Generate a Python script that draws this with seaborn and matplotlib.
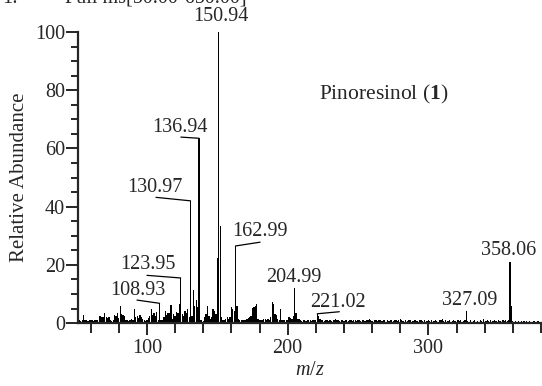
import numpy as np
import pandas as pd
import matplotlib
matplotlib.use("Agg")
import matplotlib.pyplot as plt
import seaborn as sns

# relative abundance at each nominal m/z
int_51_100 = [1.5, 1, 0.8, 1, 2.8, 1.2, 1, 0.8, 1, 1,
              1.2, 0.8, 1, 1, 1.2, 2.6, 2.4, 2.2, 2, 3.4,
              2.2, 1.6, 2, 1, 0.8, 1.2, 2.8, 2.5, 3.5, 1.8,
              6, 3, 2.8, 2.6, 1.2, 1, 0.8, 1, 1.5, 1,
              4.8, 2, 2.4, 1.8, 2.8, 2, 1.4, 1, 0.8, 1]
int_101_150 = [1.6, 2.5, 4.8, 2.8, 3.5, 2.4, 3.9, 1.2, 6.8, 1,
               1.2, 2, 4, 2.8, 3.3, 3.5, 6.2, 1.5, 3, 2.5,
               3.9, 3.5, 6.5, 15.5, 3, 2.5, 4, 3.5, 5, 2,
               42, 2.5, 11.5, 6, 8, 5.5, 63.5, 1, 1.2, 0.8,
               2, 3, 6, 2.5, 1.5, 2, 5, 4, 3, 22.5]
int_151_200 = [100, 33.5, 2, 1, 1.2, 1.5, 2, 1.5, 2, 5.5,
               5, 4, 26.5, 5.8, 1.5, 1, 1, 1.2, 1, 1,
               1.5, 1.6, 2, 2.5, 5.2, 5.5, 5.8, 6.5, 1.5, 1.2,
               1.2, 1, 1.5, 1.5, 1.2, 1.5, 1.2, 2, 7.3, 6.5,
               3, 2.8, 1.5, 1.2, 4.8, 1.2, 1.2, 1, 1, 1.2]
int_201_250 = [2.2, 1.8, 1.5, 2.5, 12, 3.5, 1.5, 1.5, 1, 0.8,
               1, 1, 0.8, 1, 1, 1, 0.8, 1, 1, 1.2,
               3.2, 2.5, 1.5, 1, 1, 0.8, 1, 1, 0.8, 1,
               0.8, 0, 1, 1.5, 1, 1, 0.8, 1, 1, 0.8,
               1, 1, 0.8, 1, 1, 0.8, 1, 1, 0.8, 1]
int_251_300 = [1, 0.8, 1, 1, 0.8, 1, 1, 1.5, 1, 0.8,
               0, 1, 1, 0.8, 1, 1, 0.8, 1, 1, 0,
               1, 0.8, 1, 1, 0.8, 1, 1, 0.8, 1, 1.5,
               1, 0.8, 0, 1, 0.8, 1, 1, 0, 0.8, 1,
               1, 0.8, 0, 1, 1, 0.8, 1, 0, 0.8, 1]
int_301_350 = [0.8, 1, 0, 0.8, 1, 0.8, 0, 1, 1, 1.5,
               0.8, 1, 0, 0.8, 1, 0, 0.8, 1, 0.8, 0,
               1, 0.8, 1, 0, 0.8, 1, 4, 0.8, 0, 1,
               0, 0.8, 1, 0, 0.8, 0, 1, 0.8, 1.5, 0,
               0.8, 1, 0.8, 1, 0, 0.8, 1, 0.8, 0, 1]
int_351_380 = [0.8, 0, 1, 0.8, 1, 0.8, 1, 21, 6, 0.8,
               0, 0.8, 0, 0.8, 0, 0.8, 0, 0.8, 0, 0.8,
               0, 0.8, 0, 0, 0.8, 0, 0, 0.8, 0, 0]

intensity = (int_51_100 + int_101_150 + int_151_200 + int_201_250
             + int_251_300 + int_301_350 + int_351_380)
mz = np.arange(51, 51 + len(intensity))

# labelled peaks: label, peak m/z, peak height, text centre (x, y), leader end or None
peak_labels = ["150.94", "136.94", "130.97", "123.95", "108.93",
               "162.99", "204.99", "221.02", "327.09", "358.06"]
peak_mz = [150.94, 136.94, 130.97, 123.95, 108.93,
           162.99, 204.99, 221.02, 327.09, 358.06]
peak_height = [100, 63.5, 42, 15.5, 6.8, 26.5, 12, 3.2, 4, 21]
label_x = [152.7, 123.5, 105.7, 100.7, 93.6, 180.4, 204.6, 236.0, 329.2, 356.9]
label_y = [105.2, 67.3, 46.7, 20.3, 11.3, 31.3, 15.8, 7.2, 7.9, 25.1]
leader_x = [None, 124.1, 106.4, 100.0, 92.9, 180.4, None, 236.7, None, None]
leader_y = [None, 63.9, 43.2, 16.4, 7.9, 27.8, None, 3.9, None, None]

df = pd.DataFrame({"mz": mz, "abundance": intensity})

sns.set_style("ticks")
plt.rcParams["font.family"] = ["Liberation Serif", "DejaVu Serif"]
plt.rcParams["mathtext.fontset"] = "custom"
plt.rcParams["mathtext.rm"] = "Liberation Serif"
plt.rcParams["mathtext.it"] = "Liberation Serif:italic"
plt.rcParams["mathtext.bf"] = "Liberation Serif:bold"

fig = plt.figure(figsize=(5.42, 3.86), dpi=100)
ax = fig.add_axes([0.144, 0.163, 0.854, 0.754])

sns.barplot(data=df, x="mz", y="abundance", native_scale=True, width=0.9,
            color="black", linewidth=0, saturation=1, ax=ax)
for p in ax.patches:
    p.set_clip_on(False)

ax.set_xlim(51, 380)
ax.set_ylim(0, 100)

for i, lab in enumerate(peak_labels):
    ax.text(label_x[i], label_y[i], lab, ha="center", va="center",
            fontsize=14.5, clip_on=False)
    if leader_x[i] is not None:
        ax.plot([leader_x[i], peak_mz[i]], [leader_y[i], peak_height[i]],
                color="black", lw=0.9, clip_on=False)

ax.text(268, 78.4, r"Pinoresinol ($\mathbf{1}$)", ha="center", va="center",
        fontsize=15.5)

ax.set_xticks([100, 200, 300])
ax.set_xticks(np.arange(60, 381, 20), minor=True)
ax.set_yticks([0, 20, 40, 60, 80, 100])
ax.set_yticks(np.arange(0, 101, 5), minor=True)
ax.tick_params(axis="x", which="major", length=8.5, width=1.4, labelsize=14.5, pad=3)
ax.tick_params(axis="x", which="minor", length=7, width=1.4)
ax.tick_params(axis="y", which="major", length=8.5, width=1.4, labelsize=14.5, pad=1)
ax.tick_params(axis="y", which="minor", length=5, width=1.4)

ax.set_xlabel(r"$m/z$", fontsize=14.5, labelpad=2)
ax.set_ylabel("Relative Abundance", fontsize=15, labelpad=4)
sns.despine(ax=ax)
for s in ["left", "bottom"]:
    ax.spines[s].set_linewidth(1.6)

# header line of the original figure, cut off at the top edge
fig.text(2 / 542, 1 - 3 / 386, "1:", fontsize=14.5, va="baseline")
fig.text(247 / 542, 1 - 3 / 386, "Full ms[50.00-650.00]", fontsize=14.5,
         va="baseline", ha="right")

fig.savefig("out.png", dpi=100)
